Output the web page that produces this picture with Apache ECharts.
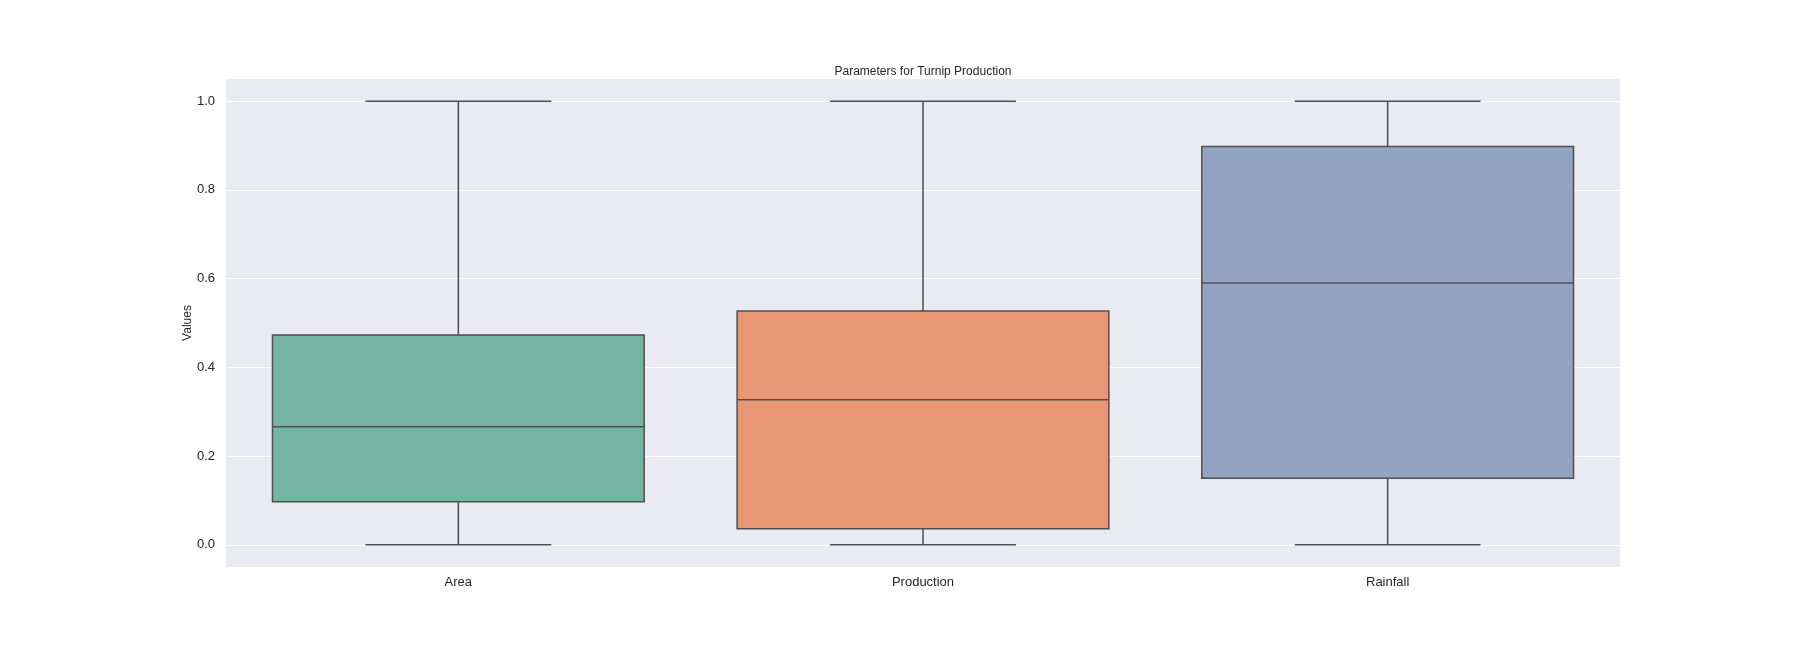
<!DOCTYPE html>
<html>
<head>
<meta charset="utf-8">
<script src="https://cdn.jsdelivr.net/npm/echarts@6/dist/echarts.min.js"></script>
<style>
html,body{margin:0;padding:0;background:#fff;}
#chart{width:1800px;height:648px;}
</style>
</head>
<body>
<div id="chart"></div>
<script>
const categories = ['Area', 'Production', 'Rainfall'];
const mins    = [0.0, 0.0, 0.0];
const q1s     = [0.097, 0.036, 0.150];
const medians = [0.266, 0.327, 0.590];
const q3s     = [0.473, 0.527, 0.898];
const maxs    = [1.0, 1.0, 1.0];
const yTicks  = [0.0, 0.2, 0.4, 0.6, 0.8, 1.0];
const boxColors = ['#74b4a0', '#e89674', '#93a3c2'];

const data = categories.map((c, i) => [i, mins[i], q1s[i], medians[i], q3s[i], maxs[i]]);
const lineColor = '#4f4f4f';
const lw = 1.5;

function renderItem(params, api) {
  const idx = api.value(0);
  const band = api.size([1, 0])[0];
  const cx = api.coord([idx, 0])[0];
  const yMin = api.coord([idx, api.value(1)])[1];
  const yQ1 = api.coord([idx, api.value(2)])[1];
  const yMed = api.coord([idx, api.value(3)])[1];
  const yQ3 = api.coord([idx, api.value(4)])[1];
  const yMax = api.coord([idx, api.value(5)])[1];
  const hb = band * 0.4;
  const hc = band * 0.2;
  const ls = { stroke: lineColor, lineWidth: lw };
  return {
    type: 'group',
    children: [
      { type: 'line', shape: { x1: cx, y1: yQ1, x2: cx, y2: yMin }, style: ls },
      { type: 'line', shape: { x1: cx, y1: yQ3, x2: cx, y2: yMax }, style: ls },
      { type: 'line', shape: { x1: cx - hc, y1: yMin, x2: cx + hc, y2: yMin }, style: ls },
      { type: 'line', shape: { x1: cx - hc, y1: yMax, x2: cx + hc, y2: yMax }, style: ls },
      { type: 'rect', shape: { x: cx - hb, y: yQ3, width: hb * 2, height: yQ1 - yQ3 },
        style: { fill: boxColors[idx], stroke: lineColor, lineWidth: lw } },
      { type: 'line', shape: { x1: cx - hb, y1: yMed, x2: cx + hb, y2: yMed }, style: ls }
    ]
  };
}

const chart = echarts.init(document.getElementById('chart'));
chart.setOption({
  animation: false,
  backgroundColor: '#ffffff',
  textStyle: { fontFamily: 'Liberation Sans, Arial, sans-serif' },
  title: {
    text: 'Parameters for Turnip Production',
    left: 918, top: 61, textAlign: 'center',
    textStyle: { fontSize: 12, fontWeight: 'normal', color: '#262626', fontFamily: 'Liberation Sans, Arial, sans-serif' }
  },
  grid: { left: 226, right: 180, top: 79, bottom: 81, show: true, backgroundColor: '#eaeaf2', borderWidth: 0 },
  xAxis: {
    type: 'category',
    data: categories,
    boundaryGap: true,
    axisLine: { show: false },
    axisTick: { show: false },
    splitLine: { show: false },
    axisLabel: { color: '#262626', fontSize: 13, margin: 9 }
  },
  yAxis: {
    type: 'value',
    min: -0.05, max: 1.05,
    name: 'Values',
    nameLocation: 'middle',
    nameGap: 32,
    nameMoveOverlap: false,
    nameTextStyle: { color: '#262626', fontSize: 12 },
    axisLine: { show: false },
    axisTick: { show: false, customValues: yTicks },
    axisLabel: { customValues: yTicks, color: '#262626', fontSize: 13, margin: 11, formatter: v => v.toFixed(1) },
    splitLine: { show: true, lineStyle: { color: '#ffffff', width: 1.2 } }
  },
  series: [{
    type: 'custom',
    renderItem: renderItem,
    data: data,
    encode: { x: 0, y: [1, 2, 3, 4, 5] },
    z: 3
  }]
});
</script>
</body>
</html>
